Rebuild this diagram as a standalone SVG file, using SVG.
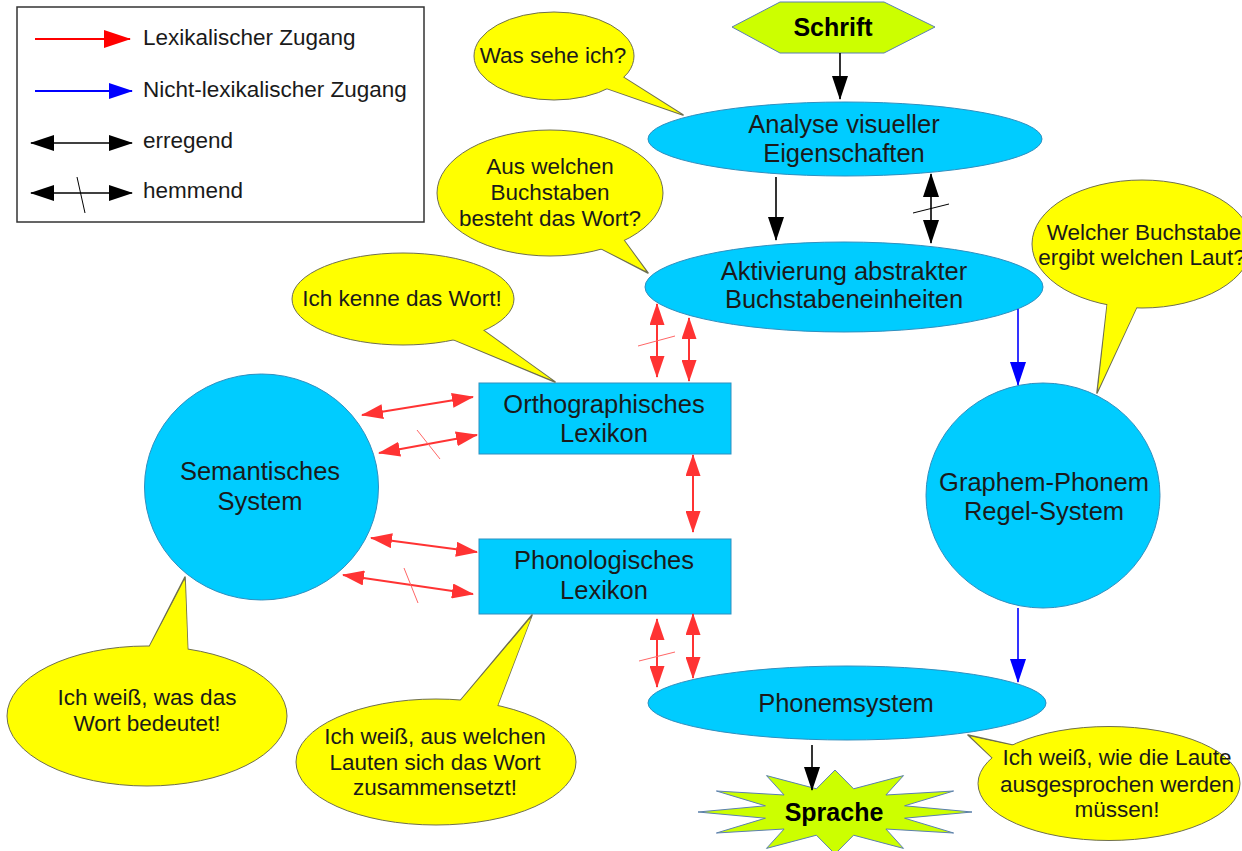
<svg xmlns="http://www.w3.org/2000/svg" width="1242" height="851" viewBox="0 0 1242 851">
<style>
text{font-family:"Liberation Sans",Arial,sans-serif;fill:#1a1a1a}
.node{font-size:25.5px;text-anchor:middle}
.bub{font-size:22.5px;text-anchor:middle}
.leg{font-size:22.5px}
.bold{font-weight:bold;font-size:25px;text-anchor:middle;fill:#000}
.cyan{fill:#00ccff;stroke:#2f8fbf;stroke-width:1}
.yel{fill:#ffff00;stroke:#6f6f50;stroke-width:1}
.yelt{fill:#ffff00;stroke:#6f6f50;stroke-width:1.6;stroke-linejoin:round}
.yelf{fill:#ffff00;stroke:none}
.lime{fill:#ccff00;stroke:#5b7fb0;stroke-width:1}
.red{stroke:#ff3333;stroke-width:2;fill:none;marker-start:url(#mr);marker-end:url(#mr)}
.redsl{stroke:#ff6666;stroke-width:1;fill:none}
.blk{stroke:#000;stroke-width:1.6;fill:none}
.blu{stroke:#0000ff;stroke-width:1.6;fill:none;marker-end:url(#mu)}
</style>
<defs>
<marker id="mr" markerUnits="userSpaceOnUse" viewBox="0 0 22 15" markerWidth="22" markerHeight="15" refX="21" refY="7.5" orient="auto-start-reverse"><path d="M0,0 L22,7.5 L0,15 z" fill="#ff3333"/></marker>
<marker id="mk" markerUnits="userSpaceOnUse" viewBox="0 0 24 16" markerWidth="24" markerHeight="16" refX="23" refY="8" orient="auto-start-reverse"><path d="M0,0 L24,8 L0,16 z" fill="#000"/></marker>
<marker id="mu" markerUnits="userSpaceOnUse" viewBox="0 0 24 16" markerWidth="24" markerHeight="16" refX="23" refY="8" orient="auto-start-reverse"><path d="M0,0 L24,8 L0,16 z" fill="#0000ff"/></marker>
<marker id="mlr" markerUnits="userSpaceOnUse" viewBox="0 0 27 18" markerWidth="27" markerHeight="18" refX="26" refY="9" orient="auto"><path d="M0,0 L27,9 L0,18 z" fill="#ff0000"/></marker>
</defs>

<g id="legend">
<rect x="17" y="7" width="407" height="215" fill="#fff" stroke="#333" stroke-width="1.5"/>
<line x1="35" y1="39" x2="130" y2="39" stroke="#ff0000" stroke-width="2" marker-end="url(#mlr)"/>
<text class="leg" x="143" y="45">Lexikalischer Zugang</text>
<line x1="35" y1="91" x2="132" y2="91" stroke="#0000ff" stroke-width="2" marker-end="url(#mu)"/>
<text class="leg" x="143" y="97">Nicht-lexikalischer Zugang</text>
<line x1="31" y1="143" x2="132" y2="143" class="blk" stroke-width="2" marker-start="url(#mk)" marker-end="url(#mk)"/>
<text class="leg" x="143" y="148">erregend</text>
<line x1="31" y1="193" x2="132" y2="193" class="blk" stroke-width="2" marker-start="url(#mk)" marker-end="url(#mk)"/>
<line x1="77" y1="177" x2="85" y2="213" stroke="#000" stroke-width="1"/>
<text class="leg" x="143" y="198">hemmend</text>
</g>

<g id="schrift">
<polygon class="lime" points="732,27 780,2 884,2 935,27 884,53 780,53"/>
<text class="bold" x="833" y="36" font-size="26">Schrift</text>
</g>

<g id="analyse">
<ellipse class="cyan" cx="845" cy="139" rx="197" ry="37"/>
<text class="node" x="844" y="133">Analyse visueller</text>
<text class="node" x="844" y="162">Eigenschaften</text>
</g>

<g id="aktivierung">
<ellipse class="cyan" cx="844" cy="287" rx="199" ry="45"/>
<text class="node" x="844" y="280">Aktivierung abstrakter</text>
<text class="node" x="844" y="308">Buchstabeneinheiten</text>
</g>

<g id="ortho">
<rect class="cyan" x="479" y="383" width="252" height="71"/>
<text class="node" x="604" y="413">Orthographisches</text>
<text class="node" x="604" y="442">Lexikon</text>
</g>

<g id="phono">
<rect class="cyan" x="479" y="539" width="252" height="75"/>
<text class="node" x="604" y="569">Phonologisches</text>
<text class="node" x="604" y="599">Lexikon</text>
</g>

<g id="semantisch">
<ellipse class="cyan" cx="261.5" cy="487" rx="117" ry="113"/>
<text class="node" x="260" y="480">Semantisches</text>
<text class="node" x="260" y="510">System</text>
</g>

<g id="graphem">
<ellipse class="cyan" cx="1043" cy="495.5" rx="117" ry="112.5"/>
<text class="node" x="1044" y="491">Graphem-Phonem</text>
<text class="node" x="1044" y="520">Regel-System</text>
</g>

<g id="phonemsystem">
<ellipse class="cyan" cx="847" cy="703" rx="199" ry="37"/>
<text class="node" x="846" y="712">Phonemsystem</text>
</g>

<g id="sprache">
<polygon class="lime" points="972,812 904.6,805.8 953.6,791 885.9,795 903.5,775.6 853.6,788.8 835,770 816.4,788.8 766.5,775.6 784.1,795 716.4,791 765.4,805.8 698,812 765.4,818.2 716.4,833 784.1,829 766.5,848.4 816.4,835.2 835,854 853.6,835.2 903.5,848.4 885.9,829 953.6,833 904.6,818.2"/>
<text class="bold" x="834" y="821">Sprache</text>
</g>

<g id="bubble-was">
<polygon class="yelt" points="618,74 600,86 683,115"/>
<ellipse class="yel" cx="554" cy="56" rx="80" ry="44"/>
<polygon class="yelf" points="618,74 600,86 681,114"/>
<text class="bub" x="553" y="63">Was sehe ich?</text>
</g>

<g id="bubble-aus">
<polygon class="yelt" points="620,235 600,248 648,273"/>
<ellipse class="yel" cx="550" cy="193" rx="113" ry="63"/>
<polygon class="yelf" points="620,235 600,248 646,271"/>
<text class="bub" x="550" y="174">Aus welchen</text>
<text class="bub" x="550" y="200">Buchstaben</text>
<text class="bub" x="550" y="226">besteht das Wort?</text>
</g>

<g id="bubble-kenne">
<polygon class="yelt" points="480,328 445,336 555,382"/>
<ellipse class="yel" cx="403" cy="299" rx="111" ry="46"/>
<polygon class="yelf" points="480,328 445,336 552,380"/>
<text class="bub" x="402" y="306">Ich kenne das Wort!</text>
</g>

<g id="bubble-welcher">
<polygon class="yelt" points="1108,298 1140,300 1097,393"/>
<ellipse class="yel" cx="1142" cy="244" rx="110" ry="64"/>
<polygon class="yelf" points="1108,298 1140,300 1098,390"/>
<text class="bub" x="1144" y="240">Welcher Buchstabe</text>
<text class="bub" x="1142" y="265">ergibt welchen Laut?</text>
</g>

<g id="bubble-bedeutet">
<polygon class="yelt" points="145,655 188,658 185,577"/>
<ellipse class="yel" cx="147" cy="716" rx="140" ry="70"/>
<polygon class="yelf" points="145,655 188,658 185,580"/>
<text class="bub" x="147" y="705">Ich weiß, was das</text>
<text class="bub" x="147" y="731">Wort bedeutet!</text>
</g>

<g id="bubble-lauten">
<polygon class="yelt" points="455,707 495,712 532,615"/>
<ellipse class="yel" cx="436" cy="762" rx="140" ry="63"/>
<polygon class="yelf" points="455,707 495,712 531,618"/>
<text class="bub" x="435" y="744">Ich weiß, aus welchen</text>
<text class="bub" x="435" y="770">Lauten sich das Wort</text>
<text class="bub" x="435" y="795">zusammensetzt!</text>
</g>

<g id="bubble-ausgesprochen">
<polygon class="yelt" points="1025,748 1000,765 968,735"/>
<ellipse class="yel" cx="1109" cy="783.5" rx="131" ry="57"/>
<polygon class="yelf" points="1025,748 1000,765 971,737"/>
<text class="bub" x="1117" y="765">Ich weiß, wie die Laute</text>
<text class="bub" x="1117" y="792">ausgesprochen werden</text>
<text class="bub" x="1117" y="817">müssen!</text>
</g>

<g id="connectors">
<line class="blk" x1="840" y1="53" x2="840" y2="99" marker-end="url(#mk)"/>
<line class="blk" x1="776" y1="177" x2="776" y2="240" marker-end="url(#mk)"/>
<line class="blk" x1="931" y1="174" x2="931" y2="243" marker-start="url(#mk)" marker-end="url(#mk)"/>
<line x1="913" y1="213" x2="949" y2="204" stroke="#000" stroke-width="1"/>
<line class="blu" x1="1018" y1="309" x2="1018" y2="385"/>
<line class="blu" x1="1018" y1="608" x2="1018" y2="682"/>
<line class="blk" x1="812" y1="745" x2="812" y2="790" marker-end="url(#mk)"/>

<line class="red" x1="362" y1="415" x2="473" y2="397"/>
<line class="red" x1="379" y1="453" x2="477" y2="435"/>
<line class="redsl" x1="417" y1="430" x2="440" y2="459"/>
<line class="red" x1="371" y1="538" x2="477" y2="552"/>
<line class="red" x1="343" y1="575" x2="473" y2="594"/>
<line class="redsl" x1="404" y1="568" x2="418" y2="603"/>
<line class="red" x1="693" y1="455" x2="693" y2="532"/>
<line class="red" x1="657" y1="304" x2="657" y2="377"/>
<line class="redsl" x1="638" y1="346" x2="675" y2="336"/>
<line class="red" x1="689" y1="318" x2="689" y2="381"/>
<line class="red" x1="657" y1="619" x2="657" y2="687"/>
<line class="redsl" x1="639" y1="661" x2="675" y2="652"/>
<line class="red" x1="693" y1="614" x2="693" y2="678"/>
</g>
</svg>
